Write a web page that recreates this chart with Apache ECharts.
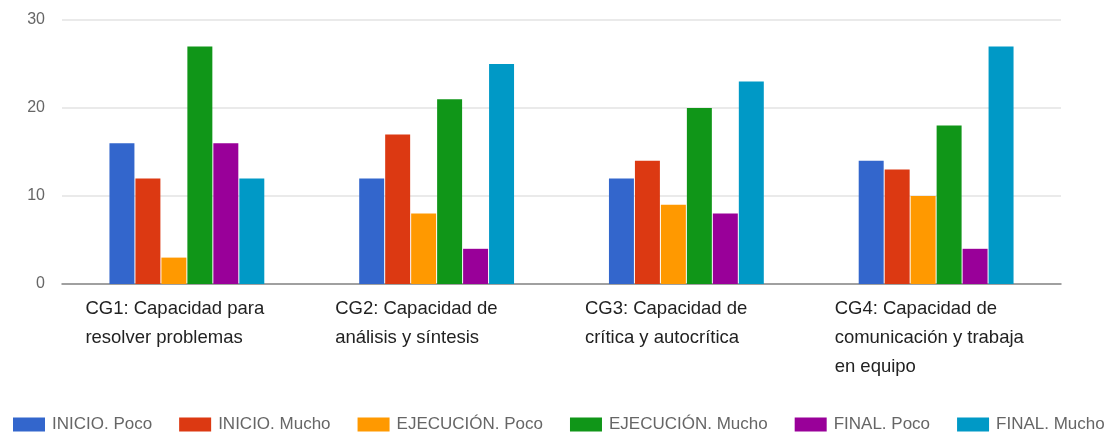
<!DOCTYPE html>
<html>
<head>
<meta charset="utf-8">
<script src="https://cdn.jsdelivr.net/npm/echarts@6/dist/echarts.min.js"></script>
<style>
  html, body { margin: 0; padding: 0; background: #fff; }
  #chart { width: 1110px; height: 436px; }
</style>
</head>
<body>
<div id="chart"></div>
<script>
const categories = [
  "CG1: Capacidad para\nresolver problemas",
  "CG2: Capacidad de\nanálisis y síntesis",
  "CG3: Capacidad de\ncrítica y autocrítica",
  "CG4: Capacidad de\ncomunicación y trabaja\nen equipo",
];
const seriesNames = [
  "INICIO. Poco", "INICIO. Mucho",
  "EJECUCIÓN. Poco", "EJECUCIÓN. Mucho",
  "FINAL. Poco", "FINAL. Mucho",
];
const inicioPoco = [16, 12, 12, 14];
const inicioMucho = [12, 17, 14, 13];
const ejecucionPoco = [3, 8, 9, 10];
const ejecucionMucho = [27, 21, 20, 18];
const finalPoco = [16, 4, 8, 4];
const finalMucho = [12, 25, 23, 27];
const colors = ["#3366cc", "#dc3912", "#ff9900", "#109618", "#990099", "#0099c6"];

const values = [inicioPoco, inicioMucho, ejecucionPoco, ejecucionMucho, finalPoco, finalMucho];

let chart = echarts.init(document.getElementById("chart"));
chart.setOption({
  animation: false,
  color: colors,
  textStyle: { fontFamily: "Liberation Sans, Arial, sans-serif" },
  grid: { left: 62, right: 49, top: 20, bottom: 152 },
  legend: {
    top: 416,
    left: 13,
    padding: 0,
    itemWidth: 32,
    itemHeight: 14,
    itemGap: 27,
    icon: "rect",
    textStyle: { color: "#666", fontSize: 17, padding: [0, 0, 0, 2] },
    data: seriesNames,
  },
  xAxis: {
    type: "category",
    data: categories,
    axisTick: { show: false },
    axisLine: { lineStyle: { color: "#888", width: 1.5 } },
    axisLabel: {
      interval: 0,
      margin: 10,
      formatter: (v) => v.split("\n").map((l) => "{a|" + l + "}").join("\n"),
      rich: {
        a: {
          width: 203,
          align: "left",
          color: "#222",
          fontSize: 18.5,
          lineHeight: 29,
          fontFamily: "Liberation Sans, Arial, sans-serif",
        },
      },
    },
  },
  yAxis: {
    type: "value",
    min: 0,
    max: 30,
    interval: 10,
    axisLine: { show: false },
    axisTick: { show: false },
    axisLabel: { color: "#666", fontSize: 16, margin: 17 },
    splitLine: { lineStyle: { color: "#e3e3e3", width: 1.5 } },
  },
  series: seriesNames.map((name, i) => ({
    name: name,
    type: "bar",
    data: values[i],
    barGap: "4%",
    barCategoryGap: "38%",
  })),
});
</script>
</body>
</html>
